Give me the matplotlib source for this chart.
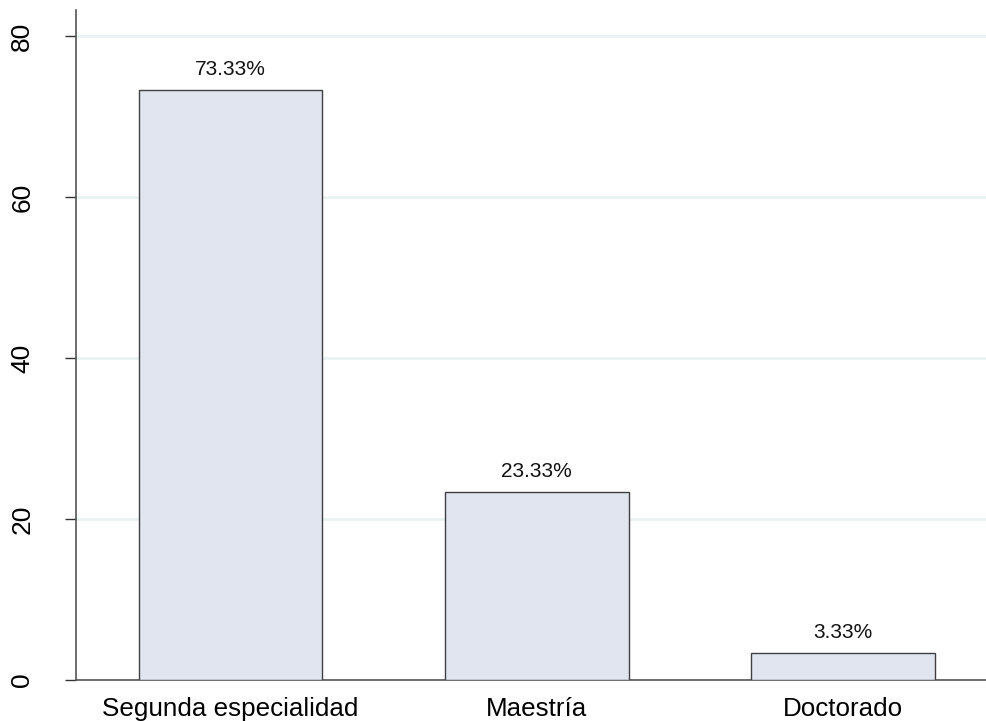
import numpy as np
import matplotlib.pyplot as plt

plt.rcParams['font.family'] = ['Liberation Sans', 'DejaVu Sans']

# data
categories = ['Segunda especialidad', 'Maestría', 'Doctorado']
percentages = [73.33, 23.33, 3.33]
yticks = [0, 20, 40, 60, 80]


def main():
    fig = plt.figure(figsize=(9.87, 7.21), dpi=100)
    ax = fig.add_axes([0.077, 0.0569, 0.923, 0.929])

    x = np.arange(len(categories))
    bars = ax.bar(x, percentages, width=0.6, color='#e1e5f0',
                  edgecolor='#404040', linewidth=1.0, zorder=3)
    ax.bar_label(bars, labels=[f'{v:.2f}%' for v in percentages],
                 padding=8, fontsize=15, color='#111111')

    # axes
    ax.set_xlim(-0.5045, 2.47)
    ax.set_ylim(0, 83.2)
    ax.set_yticks(yticks)
    ax.set_yticklabels([str(t) for t in yticks], rotation=90, va='center',
                       fontsize=19)
    ax.set_xticks(x)
    ax.set_xticklabels(categories, fontsize=18.7)
    ax.tick_params(axis='x', length=0, pad=12)
    ax.tick_params(axis='y', length=8, width=1, color='#333333', pad=22)

    ax.grid(axis='y', color='#eaf2f3', linewidth=2, zorder=0)
    for side in ['top', 'right']:
        ax.spines[side].set_visible(False)
    for side in ['left', 'bottom']:
        ax.spines[side].set_color('#555555')
        ax.spines[side].set_linewidth(1.2)

    fig.savefig('out.png', dpi=100)


if __name__ == '__main__':
    main()
